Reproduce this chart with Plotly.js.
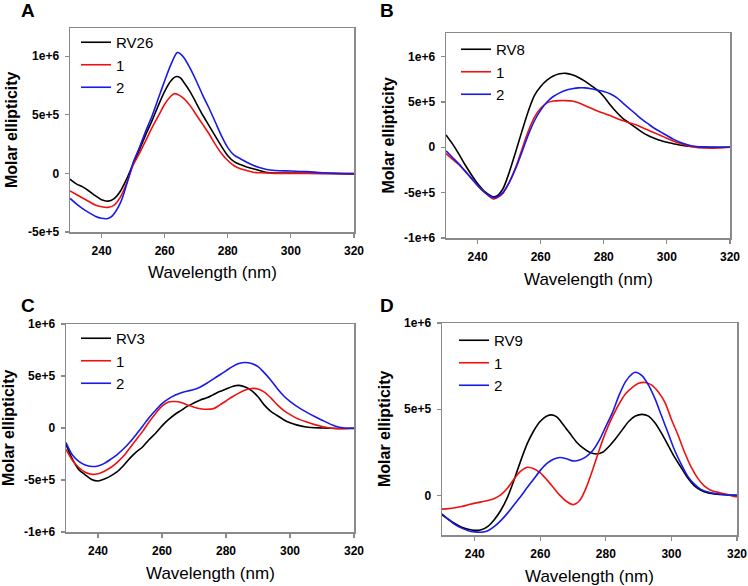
<!DOCTYPE html>
<html>
<head>
<meta charset="utf-8">
<script src="https://cdn.plot.ly/plotly-3.0.1.min.js"></script>
<style>html,body{margin:0;padding:0;background:#fff}#chart{width:748px;height:586px}</style>
</head>
<body>
<div id="chart"></div>
<script>
// ---------- Panel A ----------
const wlA_black = [230,232,234,236,238,240,242,244,246,248,250,252,254,256,258,260,262,263.5,265,266,268,270,272,274,276,278,280,282,284,286,288,290,292,295,300,310,320];
const A_black   = [-0.5e5,-0.9e5,-1.15e5,-1.5e5,-1.9e5,-2.25e5,-2.37e5,-2.15e5,-1.5e5,-0.45e5,0.8e5,2.0e5,3.3e5,4.5e5,5.8e5,7.0e5,7.9e5,8.25e5,8.15e5,7.8e5,7.0e5,6.0e5,5.0e5,4.1e5,3.2e5,2.3e5,1.5e5,1.0e5,0.75e5,0.55e5,0.4e5,0.25e5,0.1e5,0.03e5,0.03e5,0,-0.05e5];
const wlA_red   = [230,232,234,236,238,240,242,244,246,248,250,252,254,256,258,260,262,263,264,266,268,270,272,274,276,278,280,282,284,286,288,290,295,300,310,320];
const A_red     = [-1.49e5,-1.8e5,-2.1e5,-2.4e5,-2.7e5,-2.85e5,-2.9e5,-2.7e5,-2.0e5,-0.8e5,0.7e5,1.7e5,2.8e5,3.9e5,4.9e5,5.9e5,6.6e5,6.8e5,6.75e5,6.4e5,5.8e5,5.0e5,4.2e5,3.4e5,2.5e5,1.7e5,1.1e5,0.65e5,0.4e5,0.25e5,0.1e5,0.05e5,0,0,0,0];
const wlA_blue  = [230,232,234,236,238,240,242,243.5,246,248,250,252,254,256,258,260,262,264,265,266,268,270,272,274,276,278,280,282,284,286,288,290,292,295,300,305,310,320];
const A_blue    = [-2.14e5,-2.6e5,-3.0e5,-3.35e5,-3.65e5,-3.83e5,-3.85e5,-3.6e5,-2.5e5,-0.9e5,0.9e5,2.2e5,3.6e5,4.9e5,6.4e5,7.9e5,9.3e5,1.03e6,1.02e6,9.9e5,9.0e5,7.9e5,6.7e5,5.6e5,4.4e5,3.2e5,2.2e5,1.55e5,1.25e5,0.95e5,0.7e5,0.5e5,0.35e5,0.25e5,0.2e5,0.15e5,0.05e5,-0.05e5];

// ---------- Panel B ----------
const wlB_black = [230,232,234,236,238,240,242,244,245,246,248,250,252,254,256,258,260,262,264,266,268,270,272,274,276,278,280,282,284,286,288,290,292,294,296,298,300,302,305,310,315,320];
const B_black   = [1.37e5,0.4e5,-0.7e5,-1.9e5,-3.0e5,-4.0e5,-4.8e5,-5.3e5,-5.45e5,-5.4e5,-4.6e5,-2.8e5,-0.6e5,1.7e5,3.9e5,5.7e5,6.7e5,7.4e5,7.85e5,8.1e5,8.15e5,8.0e5,7.7e5,7.3e5,6.8e5,6.3e5,5.6e5,4.7e5,3.9e5,3.2e5,2.7e5,2.2e5,1.7e5,1.3e5,1.0e5,0.75e5,0.55e5,0.4e5,0.2e5,0.05e5,0,0];
const wlB_red   = [230,232,234,236,238,240,242,244,245,246,248,250,252,254,256,258,260,262,264,266,268,270,272,274,276,278,280,282,284,286,288,290,292,294,296,298,300,302,305,308,310,314,318,320];
const B_red     = [-0.7e5,-1.3e5,-1.9e5,-2.6e5,-3.4e5,-4.2e5,-4.9e5,-5.5e5,-5.7e5,-5.6e5,-5.1e5,-3.9e5,-2.3e5,-0.3e5,1.7e5,3.3e5,4.3e5,4.9e5,5.1e5,5.15e5,5.15e5,5.1e5,4.9e5,4.6e5,4.3e5,4.0e5,3.75e5,3.5e5,3.2e5,2.95e5,2.7e5,2.5e5,2.2e5,1.9e5,1.6e5,1.3e5,1.0e5,0.7e5,0.35e5,0.05e5,-0.05e5,-0.1e5,-0.05e5,0];
const wlB_blue  = [230,232,234,236,238,240,242,244,245,246,248,250,252,254,256,258,260,262,264,266,268,270,272,274,276,278,280,282,284,286,288,290,292,294,296,298,300,302,305,308,310,315,320];
const B_blue    = [-0.4e5,-1.1e5,-1.8e5,-2.6e5,-3.4e5,-4.2e5,-4.9e5,-5.4e5,-5.55e5,-5.5e5,-5.0e5,-3.9e5,-2.4e5,-0.6e5,1.3e5,2.9e5,4.1e5,5.0e5,5.6e5,6.0e5,6.3e5,6.45e5,6.55e5,6.55e5,6.45e5,6.3e5,6.15e5,5.9e5,5.5e5,4.9e5,4.3e5,3.7e5,3.1e5,2.6e5,2.1e5,1.7e5,1.3e5,0.9e5,0.45e5,0.15e5,0.05e5,0,0];

// ---------- Panel C ----------
const wlC_black = [230,232,234,236,238,240,242,244,246,248,250,252,254,256,258,260,262,264,266,268,270,272,274,276,278,280,282,284,286,288,290,292,294,296,298,300,302,305,310,315,320];
const C_black   = [-1.57e5,-3.0e5,-4.0e5,-4.5e5,-4.95e5,-5.1e5,-4.9e5,-4.6e5,-4.2e5,-3.6e5,-2.9e5,-2.3e5,-1.8e5,-1.1e5,-0.5e5,0.2e5,0.8e5,1.3e5,1.7e5,2.1e5,2.4e5,2.7e5,2.9e5,3.2e5,3.5e5,3.75e5,4.0e5,4.1e5,3.95e5,3.6e5,3.0e5,2.2e5,1.6e5,1.2e5,0.8e5,0.5e5,0.3e5,0.1e5,0,-0.05e5,-0.05e5];
const wlC_red   = [230,232,234,236,238,240,242,244,246,248,250,252,254,256,258,260,262,264,266,268,270,272,274,276,278,280,282,284,286,288,290,292,294,296,298,300,302,305,308,310,314,318,320];
const C_red     = [-2.05e5,-3.1e5,-3.8e5,-4.25e5,-4.45e5,-4.4e5,-4.15e5,-3.8e5,-3.3e5,-2.7e5,-1.9e5,-1.1e5,-0.3e5,0.6e5,1.4e5,2.1e5,2.5e5,2.55e5,2.45e5,2.2e5,2.0e5,1.85e5,1.8e5,1.85e5,2.2e5,2.6e5,3.0e5,3.35e5,3.65e5,3.8e5,3.75e5,3.45e5,2.9e5,2.25e5,1.7e5,1.3e5,0.95e5,0.6e5,0.3e5,0.15e5,-0.05e5,-0.05e5,0];
const wlC_blue  = [230,232,234,236,238,240,242,244,246,248,250,252,254,256,258,260,262,264,266,268,270,272,274,276,278,280,282,284,286,288,290,292,294,296,298,300,302,305,308,310,314,317,320];
const C_blue    = [-1.4e5,-2.6e5,-3.2e5,-3.55e5,-3.7e5,-3.65e5,-3.4e5,-3.0e5,-2.55e5,-2.0e5,-1.35e5,-0.6e5,0.2e5,1.0e5,1.7e5,2.35e5,2.8e5,3.15e5,3.4e5,3.55e5,3.7e5,3.95e5,4.3e5,4.7e5,5.1e5,5.5e5,5.9e5,6.2e5,6.3e5,6.2e5,5.9e5,5.3e5,4.6e5,3.8e5,3.1e5,2.55e5,2.1e5,1.55e5,1.05e5,0.75e5,0.2e5,0,-0.03e5];

// ---------- Panel D ----------
const wlD_black = [230,232,234,236,238,240,242,244,246,248,250,252,254,256,258,260,262,263.5,265,267,269,271,273,275,277,279,281,283,285,287,289,291,293,295,297,299,301,303,305,307,309,311,314,317,320];
const D_black   = [-1.13e5,-1.4e5,-1.65e5,-1.85e5,-1.97e5,-2.03e5,-2.0e5,-1.8e5,-1.4e5,-0.85e5,-0.1e5,0.9e5,2.0e5,3.0e5,3.75e5,4.3e5,4.6e5,4.67e5,4.55e5,4.1e5,3.6e5,3.1e5,2.75e5,2.5e5,2.4e5,2.5e5,2.85e5,3.3e5,3.8e5,4.3e5,4.6e5,4.7e5,4.6e5,4.2e5,3.6e5,2.9e5,2.2e5,1.6e5,1.0e5,0.55e5,0.3e5,0.15e5,0.06e5,0.02e5,0];
const wlD_red   = [230,232,234,236,238,240,242,244,246,248,250,252,254,256,258,260,262,264,266,268,270,272,274,276,278,280,282,284,286,288,290,292,294,296,298,300,302,304,306,308,310,312,315,318,320];
const D_red     = [-0.8e5,-0.77e5,-0.72e5,-0.65e5,-0.55e5,-0.45e5,-0.38e5,-0.3e5,-0.18e5,0.04e5,0.43e5,0.95e5,1.4e5,1.63e5,1.55e5,1.3e5,0.9e5,0.45e5,0,-0.35e5,-0.54e5,-0.3e5,0.45e5,1.5e5,2.65e5,3.7e5,4.55e5,5.3e5,5.9e5,6.25e5,6.5e5,6.55e5,6.4e5,6.0e5,5.4e5,4.4e5,3.5e5,2.5e5,1.65e5,1.0e5,0.55e5,0.3e5,0.14e5,0,-0.1e5];
const wlD_blue  = [230,232,234,236,238,240,242,244,246,248,250,252,254,256,258,260,262,264,266,268,270,272,274,276,278,280,282,284,286,288,289,291,293,295,297,299,301,303,305,307,309,312,316,320];
const D_blue    = [-1.07e5,-1.4e5,-1.7e5,-1.9e5,-2.05e5,-2.12e5,-2.14e5,-2.05e5,-1.8e5,-1.45e5,-1.03e5,-0.55e5,-0.06e5,0.45e5,0.95e5,1.45e5,1.85e5,2.1e5,2.2e5,2.12e5,2.0e5,2.05e5,2.25e5,2.6e5,3.2e5,4.0e5,4.8e5,5.8e5,6.6e5,7.05e5,7.14e5,6.95e5,6.4e5,5.6e5,4.6e5,3.6e5,2.6e5,1.8e5,1.1e5,0.65e5,0.35e5,0.15e5,0.05e5,0];

// ---------- labels ----------
const seriesNames = {A:['RV26','1','2'], B:['RV8','1','2'], C:['RV3','1','2'], D:['RV9','1','2']};
const xTickVals = [240,260,280,300,320];
const yTickValsA = [-5e5,0,5e5,1e6];
const yTickTextA = ['-5e+5','0','5e+5','1e+6'];
const yTickValsBC = [-1e6,-5e5,0,5e5,1e6];
const yTickTextBC = ['-1e+6','-5e+5','0','5e+5','1e+6'];
const yTickValsD = [0,5e5,1e6];
const yTickTextD = ['0','5e+5','1e+6'];
const panelLetters = ['A','B','C','D'];
const xTitle = 'Wavelength (nm)';
const yTitle = 'Molar ellipticity';

const colors = ['#000000','#ee1111','#1a1ae6'];
const W = 748, H = 586;
function px(x){return x/W;}
function py(y){return 1 - y/H;}

const panels = [
  {key:'A', ax:'', xs:[wlA_black,wlA_red,wlA_blue], ys:[A_black,A_red,A_blue], box:[70,354,28,232], yr:[-5e5,1.24e6], tv:yTickValsA, tt:yTickTextA, leg:'legend', lx:76, ly:26},
  {key:'B', ax:'2', xs:[wlB_black,wlB_red,wlB_blue], ys:[B_black,B_red,B_blue], box:[446,730,33,238], yr:[-1e6,1.26e6], tv:yTickValsBC, tt:yTickTextBC, leg:'legend2', lx:456, ly:33},
  {key:'C', ax:'3', xs:[wlC_black,wlC_red,wlC_blue], ys:[C_black,C_red,C_blue], box:[66,354,324,532], yr:[-1e6,1e6], tv:yTickValsBC, tt:yTickTextBC, leg:'legend3', lx:76, ly:322},
  {key:'D', ax:'4', xs:[wlD_black,wlD_red,wlD_blue], ys:[D_black,D_red,D_blue], box:[442,737,323,535], yr:[-2.3e5,1e6], tv:yTickValsD, tt:yTickTextD, leg:'legend4', lx:454, ly:324}
];

const data = [];
const layout = {
  width: W, height: H, margin:{l:0,r:0,t:0,b:0},
  paper_bgcolor:'#fff', plot_bgcolor:'#fff', showlegend:true,
  font:{family:'Arial, Liberation Sans, sans-serif', color:'#000'},
  annotations: []
};
const letterPos = [[28,11],[387,11],[28,305],[387,305]];

panels.forEach((p,i)=>{
  const xa = 'x'+p.ax, ya = 'y'+p.ax;
  for(let k=0;k<3;k++){
    data.push({x:p.xs[k], y:p.ys[k], type:'scatter', mode:'lines', name:seriesNames[p.key][k],
      xaxis:xa, yaxis:ya, legend:p.leg,
      line:{color:colors[k], width:1.6, shape:'spline', smoothing:0.8}});
  }
  const axStyle = {showgrid:false, zeroline:false, showline:true, mirror:true, linecolor:'#8a8a8a', linewidth:1.5,
    ticks:'outside', ticklen:4, tickcolor:'#8a8a8a', tickwidth:1.2, ticklabelstandoff:3,
    tickfont:{family:'Arial, Liberation Sans, sans-serif', size:12, color:'#000', weight:'bold'}};
  layout['xaxis'+p.ax] = Object.assign({}, axStyle, {domain:[px(p.box[0]),px(p.box[1])], range:[230,320],
    tickvals:xTickVals, anchor:ya});
  layout['yaxis'+p.ax] = Object.assign({}, axStyle, {domain:[py(p.box[3]),py(p.box[2])], range:p.yr,
    tickvals:p.tv, ticktext:p.tt, anchor:xa});
  layout[p.leg] = {x:px(p.lx), y:py(p.ly), xanchor:'left', yanchor:'top', bgcolor:'rgba(0,0,0,0)',
    font:{family:'Arial, Liberation Sans, sans-serif', size:15, color:'#000'}, itemwidth:30, tracegroupgap:0};
  const cx = (p.box[0]+p.box[1])/2, cy=(p.box[2]+p.box[3])/2;
  layout.annotations.push({text:xTitle, xref:'paper', yref:'paper', x:px(cx), y:py(p.box[3]+41), xanchor:'center', yanchor:'middle', showarrow:false,
    font:{family:'Arial, Liberation Sans, sans-serif', size:17, color:'#000'}});
  layout.annotations.push({text:yTitle, xref:'paper', yref:'paper', x:px(p.box[0]-58), y:py(cy), xanchor:'center', yanchor:'middle', showarrow:false, textangle:-90,
    font:{family:'Arial, Liberation Sans, sans-serif', size:16, color:'#000', weight:'bold'}});
  layout.annotations.push({text:'<b>'+panelLetters[i]+'</b>', xref:'paper', yref:'paper', x:px(letterPos[i][0]), y:py(letterPos[i][1]), xanchor:'center', yanchor:'middle', showarrow:false,
    font:{family:'Arial, Liberation Sans, sans-serif', size:19, color:'#000'}});
});

Plotly.newPlot('chart', data, layout, {displayModeBar:false, staticPlot:true});
</script>
</body>
</html>
